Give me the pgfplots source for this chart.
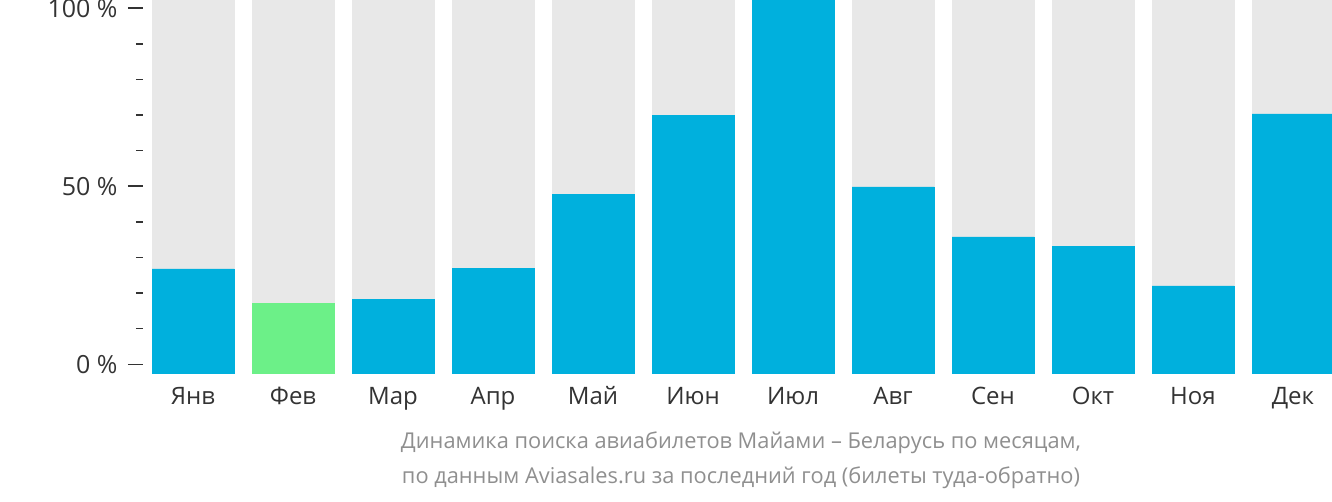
\documentclass[border=0pt]{standalone}
\usepackage{pgfplots}
\pgfplotsset{compat=1.18}
\usepackage{fontspec}
\setmainfont{Open Sans}
\definecolor{barblue}{RGB}{0,176,221}
\definecolor{bargreen}{RGB}{108,240,136}
\definecolor{bargrey}{RGB}{232,232,232}
\definecolor{ticktext}{RGB}{51,51,51}
\definecolor{captext}{RGB}{143,143,143}
\pgfplotsset{mybar/.style={ybar, bar width=0.82, bar shift=0pt, line width=0.4bp}}
\begin{document}
\begin{tikzpicture}
\useasboundingbox (0,0) rectangle (1332bp,502bp);
\begin{axis}[
  at={(143bp,128.7bp)}, anchor=south west,
  scale only axis, width=1189bp, height=373.3bp,
  xmin=-0.5, xmax=11.39, ymin=-2.53, ymax=102.3,
  axis line style={draw=none},
  xtick={0,...,11},
  xticklabels={Янв,Фев,Мар,Апр,Май,Июн,Июл,Авг,Сен,Окт,Ноя,Дек},
  x tick style={draw=none},
  ytick={0,50,100}, yticklabels={0 \%,50 \%,100 \%},
  minor ytick={10,20,30,40,60,70,80,90},
  tick align=outside,
  major tick length=15bp, minor tick length=7bp,
  y tick style={draw=ticktext, line width=1.5bp},
  minor y tick style={draw=ticktext, line width=1.5bp},
  ticklabel style={text=ticktext},
  xticklabel style={font=\fontsize{24bp}{28bp}\selectfont, anchor=base, yshift=-16bp},
  yticklabel style={font=\fontsize{25bp}{29bp}\selectfont, anchor=east, xshift=-7bp},
  clip=false,
]
\addplot[mybar, fill=bargrey, draw=bargrey] coordinates {(0,102.3) (1,102.3) (2,102.3) (3,102.3) (4,102.3) (5,102.3) (6,102.3) (7,102.3) (8,102.3) (9,102.3) (10,102.3) (11,102.3)};
\addplot[mybar, fill=barblue, draw=barblue] coordinates {(0,-2.53) (2,-2.53) (3,-2.53) (4,-2.53) (5,-2.53) (6,-2.53) (7,-2.53) (8,-2.53) (9,-2.53) (10,-2.53) (11,-2.53)};
\addplot[mybar, fill=barblue, draw=barblue] coordinates {(0,26.8) (2,18.3) (3,27.0) (4,47.8) (5,70.0) (6,102.3) (7,49.8) (8,35.8) (9,33.2) (10,22.0) (11,70.3)};
\addplot[mybar, fill=bargreen, draw=bargreen] coordinates {(1,-2.53) (1,17.2)};
\end{axis}
\node[font=\fontsize{21.8bp}{26bp}\selectfont, text=captext, anchor=base] at (741bp,53bp) {Динамика поиска авиабилетов Майами – Беларусь по месяцам,};
\node[font=\fontsize{21.8bp}{26bp}\selectfont, text=captext, anchor=base] at (741bp,19bp) {по данным Aviasales.ru за последний год (билеты туда-обратно)};
\end{tikzpicture}
\end{document}
